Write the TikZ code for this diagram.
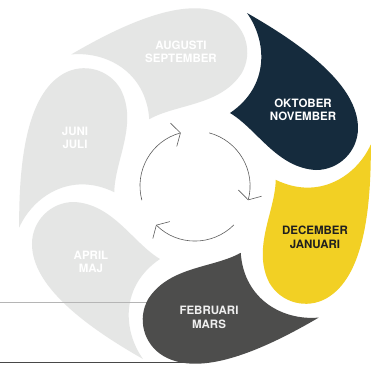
\documentclass[tikz,border=0pt]{standalone}
\usepackage{fontspec}
\setmainfont{TeX Gyre Heros}
\usetikzlibrary{arrows.meta}

\definecolor{lightpetal}{HTML}{E5E6E5}
\definecolor{navypetal}{HTML}{152B3D}
\definecolor{yellowpetal}{HTML}{F2D024}
\definecolor{darkpetal}{HTML}{4D4D4C}
\definecolor{arrowgray}{HTML}{5E5E5E}
\definecolor{rulegray}{HTML}{B5B5B5}

\tikzset{
  petal/.pic={
    \fill[#1] (35,73) .. controls (62,57) and (82,18) .. (121,16)
      arc[start angle=270,end angle=360,radius=42]
      .. controls (163,100) and (110,140) .. (52,173)
      .. controls (72,145) and (75,100) .. (35,73) -- cycle;
  },
  monthlabel/.style={align=center,font=\fontsize{11.5bp}{13.5bp}\selectfont\bfseries},
  cyclearrow/.style={arrowgray,line width=0.6bp,-{Straight Barb[length=7bp,width=24bp]}}
}

\begin{document}
\begin{tikzpicture}[x=1bp,y=1bp]
  \clip (-195,-179) rectangle (193,186);
  \fill[white] (-195,-179) rectangle (193,186);
  \coordinate (hub) at (0,0);
  % light petals
  \foreach \r in {60,120,180} {
      \pic[rotate=\r] at (hub) {petal=lightpetal};
  };
  % rules
  \draw[rulegray,line width=0.8bp] (-195,-116.5) -- (0,-116.5);
  \draw[black!72,line width=1.6bp] (-195,-176.5) -- (0,-176.5);
  % coloured petals
  \pic at (hub) {petal=navypetal};
  \pic[rotate=-60] at (hub) {petal=yellowpetal};
  \pic[rotate=-120] at (hub) {petal=darkpetal};
  % labels
  \node[monthlabel,text=white] (augsep) at (-14,134) {AUGUSTI\\SEPTEMBER};
  \node[monthlabel,text=white] (oktnov) at (108,76) {OKTOBER\\NOVEMBER};
  \node[monthlabel,text=black!88] (decjan) at (120,-51.5) {DECEMBER\\JANUARI};
  \node[monthlabel,text=white!94!black] (febmar) at (14,-131.5) {FEBRUARI\\MARS};
  \node[monthlabel,text=white] (aprmaj) at (-104,-76) {APRIL\\MAJ};
  \node[monthlabel,text=white] (junjul) at (-120,48) {JUNI\\JULI};
  % cycle arrows
  \foreach \a in {195,75,-45} {
      \draw[cyclearrow] (\a:55) arc[start angle=\a,delta angle=-90,radius=55];
  };
\end{tikzpicture}
\end{document}
